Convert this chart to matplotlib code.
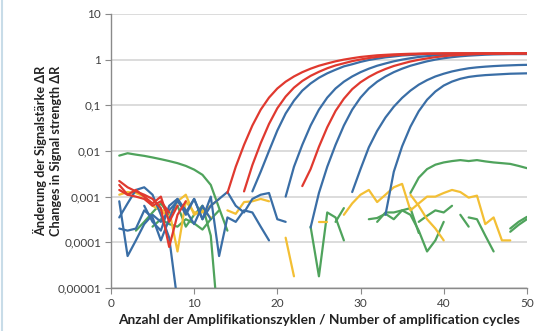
import matplotlib.pyplot as plt
from matplotlib.lines import Line2D
from matplotlib.ticker import NullLocator
import numpy as np

plt.rcParams["font.family"] = ["Lato", "DejaVu Sans"]

# Amplification curves (start cycle, delta R per cycle)
red_1 = [1.2e-3, 4.5e-3, 0.0136, 0.036, 0.080, 0.147, 0.233, 0.328, 0.427, 0.530,
         0.632, 0.733, 0.822, 0.916, 0.998, 1.07, 1.14, 1.19, 1.24, 1.27, 1.30, 1.32,
         1.34, 1.35, 1.36, 1.36, 1.37, 1.37, 1.37, 1.37, 1.37, 1.37, 1.37, 1.37, 1.37,
         1.37, 1.37]
red_2 = [1.3e-3, 4.9e-3, 0.0148, 0.039, 0.086, 0.155, 0.243, 0.34, 0.44, 0.54, 0.645,
         0.745, 0.83, 0.925, 1.005, 1.08, 1.145, 1.195, 1.245, 1.27, 1.30, 1.325, 1.34,
         1.345, 1.355, 1.36, 1.37, 1.37, 1.37, 1.37, 1.37, 1.37, 1.37, 1.37, 1.37]
red_5 = [1.7e-3, 4.0e-3, 0.0123, 0.033, 0.075, 0.139, 0.225, 0.319, 0.417, 0.52, 0.622,
         0.724, 0.813, 0.908, 0.99, 1.06, 1.13, 1.186, 1.236, 1.265, 1.294, 1.32, 1.336,
         1.343, 1.35, 1.355, 1.36, 1.365]
blue_3 = [1.3e-3, 3.5e-3, 0.010, 0.028, 0.066, 0.126, 0.209, 0.30, 0.40, 0.50, 0.60,
          0.71, 0.79, 0.89, 0.98, 1.05, 1.12, 1.17, 1.23, 1.26, 1.29, 1.32, 1.33, 1.33,
          1.34, 1.34, 1.34, 1.34, 1.34, 1.34, 1.34, 1.34, 1.34, 1.34]
blue_4 = [1.0e-3, 4.5e-3, 0.0136, 0.036, 0.080, 0.147, 0.233, 0.328, 0.427, 0.53, 0.632,
          0.733, 0.822, 0.916, 0.998, 1.07, 1.14, 1.19, 1.23, 1.26, 1.29, 1.31, 1.32,
          1.33, 1.33, 1.33, 1.33, 1.33, 1.33, 1.33]
blue_6 = [2.1e-4, 1.2e-3, 4.5e-3, 0.0136, 0.036, 0.080, 0.147, 0.233, 0.328, 0.427, 0.53,
          0.632, 0.733, 0.822, 0.916, 0.998, 1.07, 1.13, 1.18, 1.22, 1.25, 1.28, 1.30,
          1.31, 1.32, 1.32, 1.32]
blue_7 = [1.26e-3, 4.0e-3, 0.012, 0.0275, 0.054, 0.093, 0.145, 0.209, 0.282, 0.355, 0.427,
          0.49, 0.55, 0.60, 0.645, 0.676, 0.70, 0.72, 0.736, 0.748, 0.76, 0.767]
blue_8 = [4.0e-4, 3.5e-3, 0.0126, 0.034, 0.074, 0.132, 0.20, 0.27, 0.33, 0.38, 0.417,
          0.44, 0.457, 0.468, 0.479, 0.49, 0.495, 0.50]

# Baseline noise traces
red_n1 = [2.2e-3, 1.6e-3, 1.3e-3, 1.1e-3, 8.9e-4, 5.6e-4, 7.9e-5, 4.0e-4, 7.9e-4]
red_n2 = [1.8e-3, 1.1e-3, 1.4e-3, 1.0e-3, 7.1e-4, 1.0e-3, 2.8e-4, 6.3e-4]
red_n3 = [1.4e-3, 1.1e-3, 1.0e-3, 8.9e-4, 6.3e-4, 7.9e-4, 4.5e-4]
blue_n1 = [7.9e-4, 5.0e-5, 1.1e-4, 2.5e-4, 4.0e-4, 2.8e-4, 5.0e-4, 7.9e-4, 4.5e-4, 8.9e-4,
           3.2e-4, 1.0e-3, 5.0e-5, 3.5e-4, 2.8e-4, 5.0e-4, 4.5e-4, 2.2e-4, 1.1e-4]
blue_n2 = [3.5e-4, 7.1e-4, 1.4e-3, 1.6e-3, 1.1e-3, 4.0e-4, 1.26e-4, 5e-6]
blue_n3 = [2.0e-4, 1.8e-4, 2.0e-4, 5.0e-4, 3.5e-4, 1.1e-4, 3.2e-4, 8.9e-4, 5.0e-4, 2.5e-4,
           6.3e-4, 3.2e-4]
blue_n4 = [6.3e-4, 2.8e-4, 1.8e-4, 6.3e-4, 8.9e-4, 4.0e-4, 8.9e-4, 3.2e-4, 6.3e-4, 8.9e-4,
           1.26e-3, 6.3e-4, 4.5e-4, 8.9e-4, 1.1e-3, 1.2e-3, 3.2e-4, 2.8e-4]
green_top = [7.9e-3, 8.9e-3, 8.3e-3, 7.8e-3, 7.2e-3, 6.6e-3, 6.0e-3, 5.4e-3, 4.7e-3, 3.9e-3,
             3.0e-3, 1.8e-3, 5.6e-4, 1.8e-4]
green_n1 = [1.8e-4, 2.8e-4, 4.5e-4, 7.1e-4, 4.0e-4, 6.3e-4, 2.2e-4, 4.0e-4, 6.3e-4, 1.4e-4, 1e-6]
green_n2 = [2.2e-4, 3.2e-4, 2.5e-4, 2.2e-4, 3.2e-4, 2.6e-4, 1.9e-4, 3.2e-4, 5.0e-4]
green_r1 = [2.2e-4, 1.8e-5, 4.5e-4, 3.5e-4, 1.1e-4]
green_r1b = [2.8e-4, 5.6e-4]
green_r2 = [3.2e-4, 3.4e-4, 4.2e-4, 3.2e-4, 5.0e-4, 5.6e-4, 1.6e-4]
green_r3 = [2.8e-4, 4.5e-4, 4.5e-4, 5.0e-4, 4.0e-4, 1.8e-4, 6.3e-5, 1.1e-4, 2.8e-4]
green_r4 = [2.8e-4, 3.8e-4, 5.0e-4, 4.5e-4, 6.3e-4]
green_r5 = [4.0e-4, 2.2e-4]
green_r6 = [3.5e-4, 3.2e-4, 1.4e-4, 6.3e-5]
green_r7 = [1.7e-4, 2.4e-4, 3.2e-4]
green_r8 = [2.0e-4, 2.8e-4, 3.6e-4]
green_top_r = [1.2e-3, 2.6e-3, 4.0e-3, 5.0e-3, 5.6e-3, 6.0e-3, 6.3e-3, 6.0e-3, 6.3e-3,
               5.9e-3, 5.6e-3, 5.4e-3, 5.2e-3, 4.7e-3, 4.2e-3]
yellow_n1 = [1.1e-3, 1.26e-3, 1.2e-3, 1.0e-3, 6.3e-4, 5.0e-4, 5.0e-4, 6.3e-5, 7.9e-4, 4.5e-4,
             4.5e-4, 6.3e-4, 8.9e-4]
yellow_n2 = [5.0e-4, 3.5e-4, 7.9e-4, 1.1e-3, 4.0e-4, 5.0e-4, 3.5e-4]
yellow_mid = [5.0e-4, 4.2e-4, 7.6e-4, 7.9e-4, 8.9e-4, 7.9e-4]
yellow_drop = [1.26e-4, 1.8e-5]
yellow_r0 = [2.8e-4, 2.8e-4]
yellow_r1 = [4.0e-4, 7.1e-4, 1.1e-3, 1.4e-3, 7.6e-4, 1.1e-3, 1.6e-3, 1.9e-3, 5.0e-4, 7.1e-4,
             1.0e-3, 1.0e-3, 1.2e-3, 1.4e-3, 1.26e-3, 9.5e-4, 1.05e-3, 2.5e-4, 3.5e-4,
             1.1e-4, 1.1e-4]
yellow_r2 = [1.1e-3, 6.3e-4, 3.2e-4, 2.0e-4, 1.1e-4]

RED, BLUE, GREEN, YELLOW = "#e0392f", "#3a6ea6", "#4fa35c", "#f3bf34"

noise = [
    (GREEN, [(1, green_top), (3, green_n1), (5, green_n2), (24, green_r1), (27, green_r1b),
             (31, green_r2), (32, green_r3), (37, green_r4), (42, green_r5), (43, green_r6),
             (48, green_r7), (48, green_r8), (36, green_top_r)]),
    (YELLOW, [(1, yellow_n1), (6, yellow_n2), (14, yellow_mid), (21, yellow_drop),
              (25, yellow_r0), (28, yellow_r1), (36, yellow_r2)]),
    (BLUE, [(1, blue_n1), (1, blue_n2), (1, blue_n3), (4, blue_n4)]),
    (RED, [(1, red_n1), (1, red_n2), (1, red_n3)]),
]
curves = [
    (BLUE, [(17, blue_3), (21, blue_4), (24, blue_6), (29, blue_7), (33, blue_8)]),
    (RED, [(14, red_1), (16, red_2), (23, red_5)]),
]

fig = plt.figure(figsize=(5.36, 3.31), dpi=100)
ax = fig.add_axes([0.207, 0.130, 0.776, 0.828])

for color, group in noise + curves:
    for start, vals in group:
        cycles = np.arange(start, start + len(vals))
        ax.plot(cycles, vals, color=color, lw=1.6, solid_joinstyle="round",
                solid_capstyle="round")

ax.set_yscale("log")
ax.set_xlim(0, 50)
ax.set_ylim(1e-5, 10)
y_ticks = [1e-5, 1e-4, 1e-3, 1e-2, 1e-1, 1, 10]
y_labels = ["0,00001", "0,0001", "0,001", "0,01", "0,1", "1", "10"]
ax.set_yticks(y_ticks, y_labels)
ax.yaxis.set_minor_locator(NullLocator())
ax.set_xticks([0, 10, 20, 30, 40, 50])

ax.yaxis.grid(True, color="#d5d5d5", lw=1.2)
ax.set_axisbelow(True)
for side in ["top", "right"]:
    ax.spines[side].set_visible(False)
for side in ["left", "bottom"]:
    ax.spines[side].set_color("#8a8a8a")
    ax.spines[side].set_linewidth(1.0)
ax.tick_params(direction="out", length=4, color="#8a8a8a", labelsize=8.5,
               labelcolor="#404040", pad=3)

ax.set_xlabel("Anzahl der Amplifikationszyklen / Number of amplification cycles",
              fontsize=9.9, fontweight="bold", color="#222222", labelpad=4)
ax.set_ylabel("Änderung der Signalstärke ΔR\nChanges in Signal strength ΔR",
              fontsize=9.2, fontweight="bold", color="#222222", linespacing=1.25)
ax.yaxis.set_label_coords(-0.118, 0.5)

fig.add_artist(Line2D([0.003, 0.003], [0.0, 1.0], color="#c8dce8", lw=1.5))

fig.savefig("out.png", dpi=100)
